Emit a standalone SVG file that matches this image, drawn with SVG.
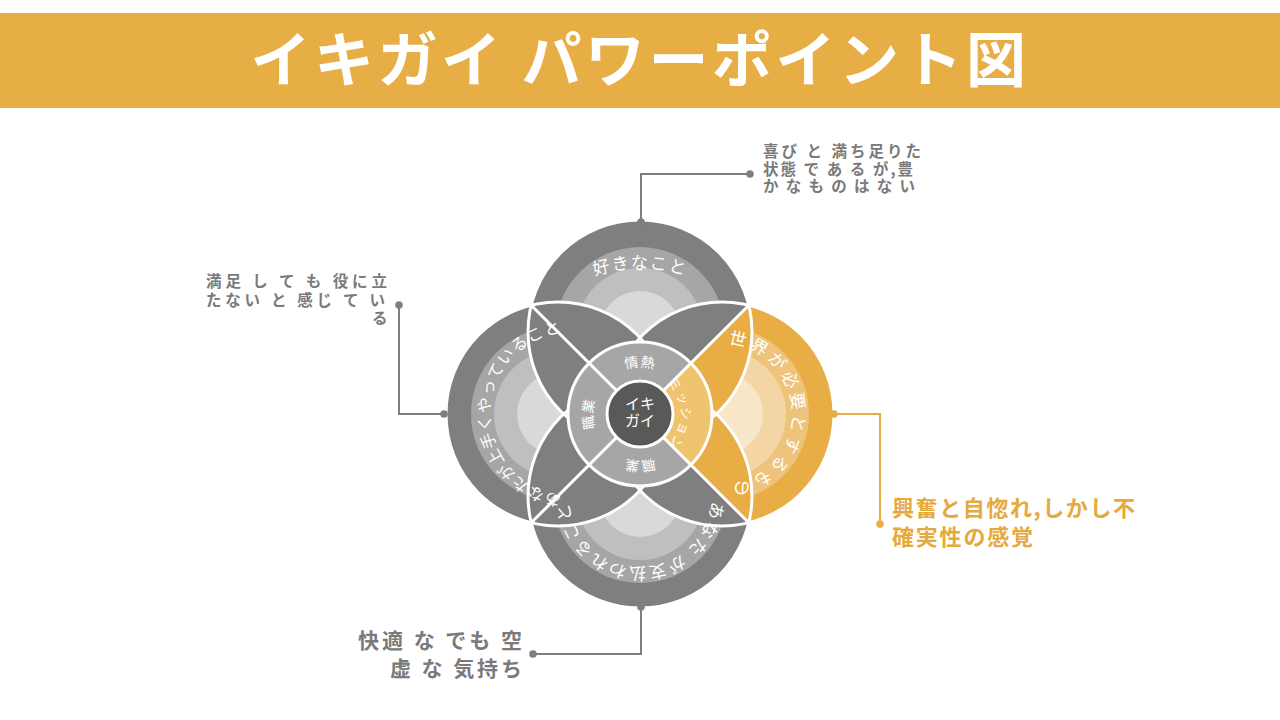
<svg xmlns="http://www.w3.org/2000/svg" width="1280" height="720" viewBox="0 0 1280 720">
<style>
.t{font-family:"Noto Sans CJK JP","Noto Sans",sans-serif;}
.wt{fill:#ffffff;}
.gt{fill:#7a7a7a;font-weight:bold;}
.ot{fill:#E6A93C;font-weight:bold;}
.ol{fill:none;stroke:#ffffff;stroke-width:3;}
.g0{fill:#7f7f7f;}.g1{fill:#a6a6a6;}.g2{fill:#bfbfbf;}.g3{fill:#d9d9d9;}
.o0{fill:#E8AD45;}.o1{fill:#EEC47C;}.o2{fill:#F3D6A3;}.o3{fill:#F8E6C8;}
.cg{fill:none;stroke:#7f7f7f;stroke-width:2;}
.co{fill:none;stroke:#E8AD45;stroke-width:2;}
</style>
<defs>
<clipPath id="qTop"><polygon points="640,414 290,64 990,64"/></clipPath>
<clipPath id="qRight"><polygon points="640,414 990,64 990,764"/></clipPath>
<clipPath id="qBottom"><polygon points="640,414 990,764 290,764"/></clipPath>
<clipPath id="qLeft"><polygon points="640,414 290,764 290,64"/></clipPath>
<path id="pTop" d="M640,559.5 A145.5,145.5 0 1 1 640,268.5 A145.5,145.5 0 1 1 640,559.5"/>
<path id="pRight" d="M651.5,414 A70.5,70.5 0 1 1 792.5,414 A70.5,70.5 0 1 1 651.5,414"/>
<path id="pLeft" d="M654,414 A82,82 0 1 1 490,414 A82,82 0 1 1 654,414"/>
<path id="pBottom" d="M640,424.5 A71.5,71.5 0 1 1 640,567.5 A71.5,71.5 0 1 1 640,424.5"/>
<path id="sTop" d="M640,461 A47,47 0 1 1 640,367 A47,47 0 1 1 640,461"/>
<path id="sRight" d="M599,414 A41,41 0 1 1 681,414 A41,41 0 1 1 599,414"/>
<path id="sBottom" d="M640,367 A47,47 0 1 1 640,461 A47,47 0 1 1 640,367"/>
<path id="sLeft" d="M687,414 A47,47 0 1 1 593,414 A47,47 0 1 1 687,414"/>
</defs>
<rect width="1280" height="720" fill="#ffffff"/>
<g id="title">
<rect x="0" y="13" width="1280" height="95" fill="#E7AE45"/>
<text class="t wt" x="640" y="82" font-size="60" font-weight="bold" letter-spacing="3.5" text-anchor="middle">イキガイ パワーポイント図</text>
</g>
<g id="petal-top" clip-path="url(#qTop)">
<circle class="g0" cx="640" cy="332" r="112"/>
<circle class="g1" cx="640" cy="332" r="85"/>
<circle class="g2" cx="640" cy="332" r="64"/>
<circle class="g3" cx="640" cy="332" r="41"/>
<circle class="g0" cx="558" cy="414" r="112"/>
<circle class="g0" cx="722" cy="414" r="112"/>
</g>
<g id="petal-right" clip-path="url(#qRight)">
<circle class="o0" cx="722" cy="414" r="112"/>
<circle class="o1" cx="722" cy="414" r="87"/>
<circle class="o2" cx="722" cy="414" r="64"/>
<circle class="o3" cx="722" cy="414" r="41"/>
<circle class="o0" cx="640" cy="332" r="112"/>
<circle class="o0" cx="640" cy="496" r="112"/>
</g>
<g id="petal-bottom" clip-path="url(#qBottom)">
<circle class="g0" cx="640" cy="496" r="112"/>
<circle class="g1" cx="640" cy="496" r="87"/>
<circle class="g2" cx="640" cy="496" r="64"/>
<circle class="g3" cx="640" cy="496" r="41"/>
<circle class="g0" cx="558" cy="414" r="112"/>
<circle class="g0" cx="722" cy="414" r="112"/>
</g>
<g id="petal-left" clip-path="url(#qLeft)">
<circle class="g0" cx="558" cy="414" r="112"/>
<circle class="g1" cx="558" cy="414" r="87"/>
<circle class="g2" cx="558" cy="414" r="64"/>
<circle class="g3" cx="558" cy="414" r="41"/>
<circle class="g0" cx="640" cy="332" r="112"/>
<circle class="g0" cx="640" cy="496" r="112"/>
</g>
<g id="outlines">
<circle class="ol" cx="640" cy="332" r="112"/>
<circle class="ol" cx="722" cy="414" r="112"/>
<circle class="ol" cx="640" cy="496" r="112"/>
<circle class="ol" cx="558" cy="414" r="112"/>
</g>
<g id="center-ring">
<circle class="g1" cx="640" cy="414" r="72"/>
<path d="M640,414 L690.9,363.1 A72,72 0 0 1 690.9,464.9 Z" fill="#F0C36E"/>
<circle class="ol" cx="640" cy="414" r="72"/>
<line x1="531.2" y1="305.2" x2="748.8" y2="522.8" stroke="#ffffff" stroke-width="3"/>
<line x1="748.8" y1="305.2" x2="531.2" y2="522.8" stroke="#ffffff" stroke-width="3"/>
<text class="t wt" font-size="14" letter-spacing="1" text-anchor="middle"><textPath href="#sTop" startOffset="50%">情熱</textPath></text>
<text class="t wt" font-size="13" letter-spacing="1" text-anchor="middle"><textPath href="#sRight" startOffset="50%">ミッション</textPath></text>
<text class="t wt" font-size="14" letter-spacing="1" text-anchor="middle"><textPath href="#sBottom" startOffset="50%">職業</textPath></text>
<text class="t wt" font-size="14" letter-spacing="1" text-anchor="middle"><textPath href="#sLeft" startOffset="50%">職業</textPath></text>
</g>
<g id="ikigai">
<circle cx="640" cy="414" r="33" fill="#595959" stroke="#ffffff" stroke-width="3"/>
<text class="t wt" font-size="15" text-anchor="middle"><tspan x="640" y="409">イキ</tspan><tspan x="640" y="426">ガイ</tspan></text>
</g>
<g id="circle-texts">
<text class="t wt" font-size="17" letter-spacing="1.5" text-anchor="middle"><textPath href="#pTop" startOffset="50%">好きなこと</textPath></text>
<text class="t wt" font-size="17" letter-spacing="3.9" text-anchor="middle"><textPath href="#pRight" startOffset="50%">世界が必要とするもの</textPath></text>
<text class="t wt" font-size="16" letter-spacing="1" text-anchor="middle"><textPath href="#pLeft" startOffset="50%">あなたが上手くやっていること</textPath></text>
<text class="t wt" font-size="17" letter-spacing="2" text-anchor="middle"><textPath href="#pBottom" startOffset="50%">あなた が支払われること</textPath></text>
</g>
<g id="connectors">
<polyline class="cg" points="750,174 641,174 641,222"/>
<circle cx="750" cy="174" r="3.8" fill="#7f7f7f"/>
<circle cx="641" cy="222" r="3.8" fill="#7f7f7f"/>
<polyline class="cg" points="399,305 399,414 444,414"/>
<circle cx="399" cy="305" r="3.8" fill="#7f7f7f"/>
<circle cx="444" cy="414" r="3.8" fill="#7f7f7f"/>
<polyline class="co" points="834,414 880,414 880,524"/>
<circle cx="834" cy="414" r="3.8" fill="#E8AD45"/>
<circle cx="880" cy="524" r="3.8" fill="#E8AD45"/>
<polyline class="cg" points="641,607 641,654 533,654"/>
<circle cx="641" cy="607" r="3.8" fill="#7f7f7f"/>
<circle cx="533" cy="654" r="3.8" fill="#7f7f7f"/>
</g>
<g id="label-top">
<text class="t gt" font-size="15.5"><tspan x="763" y="157" textLength="158" lengthAdjust="spacing">喜び と 満ち足りた</tspan><tspan x="763" y="174.5" textLength="150" lengthAdjust="spacing">状態 で あ る が,豊</tspan><tspan x="763" y="192" textLength="152" lengthAdjust="spacing">か な も の は な い</tspan></text>
</g>
<g id="label-left">
<text class="t gt" font-size="15.5"><tspan x="206" y="287" textLength="181" lengthAdjust="spacing">満足 し て も 役に立</tspan><tspan x="206" y="305.5" textLength="179" lengthAdjust="spacing">たない と 感じ て い</tspan><tspan x="372" y="324">る</tspan></text>
</g>
<g id="label-right">
<text class="t ot" font-size="22"><tspan x="892" y="516" textLength="243" lengthAdjust="spacing">興奮と自惚れ,しかし不</tspan><tspan x="892" y="545" textLength="141" lengthAdjust="spacing">確実性の感覚</tspan></text>
</g>
<g id="label-bottom">
<text class="t gt" font-size="21"><tspan x="358" y="648" textLength="164" lengthAdjust="spacing">快適 な でも 空</tspan><tspan x="390" y="676" textLength="132" lengthAdjust="spacing">虚 な 気持ち</tspan></text>
</g>
</svg>
